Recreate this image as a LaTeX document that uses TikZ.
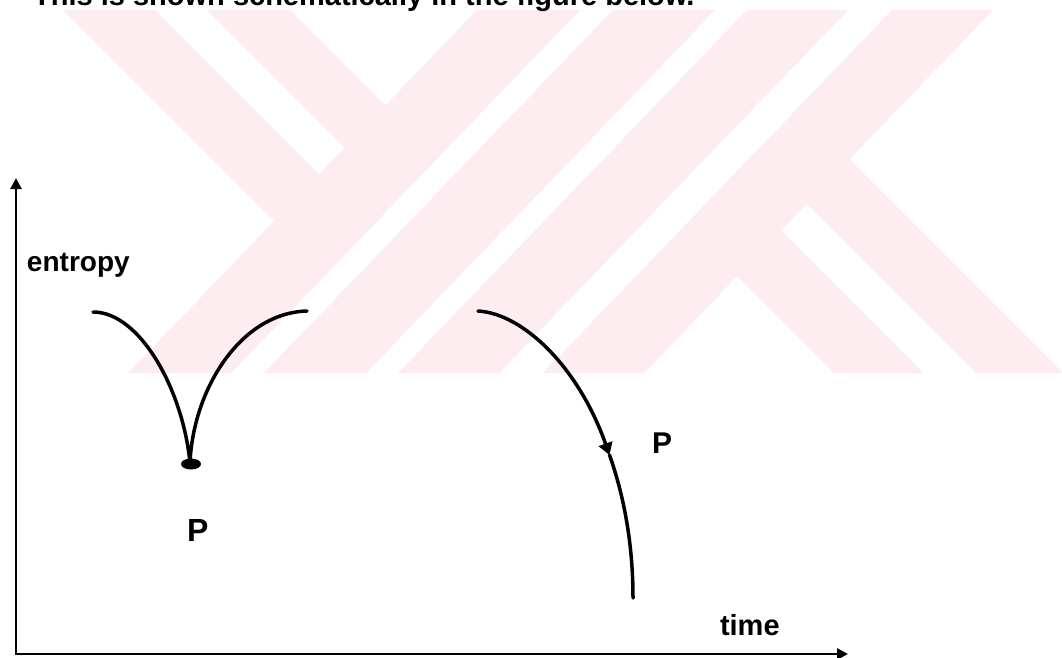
\documentclass[tikz,border=0pt]{standalone}
\usepackage{fontspec}
\setmainfont{Liberation Sans}
\usetikzlibrary{arrows.meta}
\definecolor{wmpink}{RGB}{253,236,240}
\begin{document}
\begin{tikzpicture}[x=1pt,y=-1pt,
  axis/.style={line width=2.6pt, line join=miter,
    {Triangle[length=11pt,width=11pt]}-{Triangle[length=11pt,width=11pt]}},
  curve/.style={line width=3.5pt, line cap=round, line join=round},
  lbl/.style={anchor=base west, inner sep=0pt, outer sep=0pt, font=\bfseries\fontsize{30}{36}\selectfont},
  wm/.style={fill=wmpink}]
\useasboundingbox (0,0) rectangle (1062,658);
\clip (0,0) rectangle (1062,658);
\fill[white] (0,0) rectangle (1062,658);
% watermark
\begin{scope}
  \clip (0,10) rectangle (1062,373);
  \fill[wm] (477,10) -- (580,10) -- (231,373) -- (128,373) -- cycle;
  \fill[wm] (613,10) -- (715,10) -- (366,373) -- (264,373) -- cycle;
  \fill[wm] (747,10) -- (848,10) -- (499,373) -- (398,373) -- cycle;
  \fill[wm] (892,10) -- (993,10) -- (644,373) -- (543,373) -- cycle;
  \fill[wm] (63,10) -- (155,10) -- (345,200) -- (298,245) -- cycle;
  \fill[wm] (207,10) -- (290,10) -- (410,130) -- (367,170) -- cycle;
  \fill[wm] (830,140) -- (1063,373) -- (976,373) -- (783,180) -- cycle;
  \fill[wm] (760,210) -- (923,373) -- (834,373) -- (711,250) -- cycle;
\end{scope}
% heading line (cut off at the top)
\node[anchor=base west, inner sep=0pt, font=\bfseries\fontsize{29}{34}\selectfont] (head) at (33,6) {This is shown schematically in the figure below.};
% axes
\coordinate (O) at (16,654);
\coordinate (ytip) at (16,178);
\coordinate (xtip) at (848,654);
\draw[axis] (ytip) -- (O) -- (xtip);
% left cusp curve
\coordinate (L0) at (93,312);
\coordinate (cusp) at (190,463);
\coordinate (L1) at (307,311);
\draw[curve] (L0) .. controls (140,312) and (183,390) .. (cusp) .. controls (193,390) and (240,313) .. (L1);
\fill (cusp) ++(1,1) ellipse [x radius=10, y radius=5.5];
% right curve
\coordinate (R0) at (478,311);
\coordinate (PM) at (609.5,455);
\coordinate (R1) at (633,598);
\draw[curve, -{Triangle[length=12pt,width=14pt]}] (R0) .. controls (523.6,313.7) and (578.8,367.8) .. (PM);
\draw[curve] (PM) .. controls (624,495.9) and (633,544.2) .. (R1);
% labels
\node[lbl, font=\bfseries\fontsize{28}{34}\selectfont] (ent) at (27,271) {entropy};
\node[lbl, font=\bfseries\fontsize{32}{38}\selectfont] (p1) at (187,541) {P};
\node[lbl] (p2) at (652,453) {P};
\node[lbl, font=\bfseries\fontsize{29}{34}\selectfont] (tm) at (720,635) {time};
\end{tikzpicture}
\end{document}
